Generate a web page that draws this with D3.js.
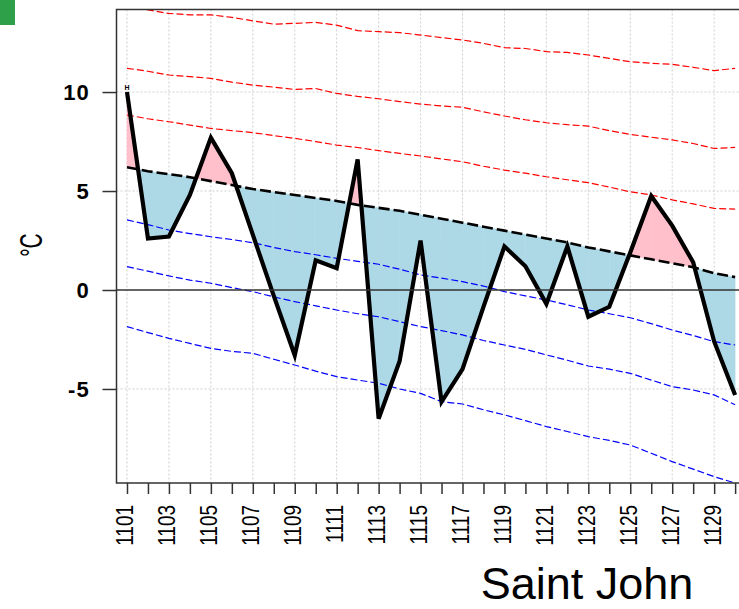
<!DOCTYPE html>
<html>
<head>
<meta charset="utf-8">
<script src="https://cdn.jsdelivr.net/npm/d3@7"></script>
<style>
  html, body { margin: 0; padding: 0; background: #ffffff; }
  svg { display: block; font-family: "Liberation Sans", Arial, sans-serif; }
</style>
</head>
<body>
<svg id="chart" width="739" height="609"></svg>
<script>
// ---------- data ----------
const days = [1,2,3,4,5,6,7,8,9,10,11,12,13,14,15,16,17,18,19,20,21,22,23,24,25,26,27,28,29,30];
const dayLabels = ["1101","1102","1103","1104","1105","1106","1107","1108","1109","1110",
                   "1111","1112","1113","1114","1115","1116","1117","1118","1119","1120",
                   "1121","1122","1123","1124","1125","1126","1127","1128","1129","1130"];
const observed = [10.0, 2.6, 2.7, 4.8, 7.7, 5.9, 2.8, -0.3, -3.3, 1.5,
                  1.1, 6.6, -6.5, -3.6, 2.5, -5.65, -4.0, -0.85, 2.2, 1.2,
                  -0.7, 2.2, -1.35, -0.85, 1.9, 4.75, 3.25, 1.4, -2.6, -5.3];
const normal = [6.2, 6.0, 5.85, 5.7, 5.5, 5.3, 5.1, 4.95, 4.8, 4.65,
                4.5, 4.3, 4.15, 4.0, 3.8, 3.6, 3.4, 3.2, 3.0, 2.8,
                2.6, 2.4, 2.15, 1.95, 1.75, 1.55, 1.35, 1.15, 0.85, 0.65];
const upper3 = [14.3, 14.15, 13.97, 13.9, 13.9, 13.77, 13.6, 13.43, 13.47, 13.52,
                13.38, 13.1, 13.05, 13.0, 12.88, 12.75, 12.63, 12.46, 12.24, 12.2,
                12.04, 12.0, 11.87, 11.7, 11.53, 11.45, 11.4, 11.25, 11.08, 11.2];
const upper2 = [11.2, 11.05, 10.86, 10.78, 10.69, 10.5, 10.35, 10.25, 10.13, 10.18,
                9.93, 9.78, 9.66, 9.52, 9.39, 9.3, 9.23, 9.0, 8.79, 8.6,
                8.45, 8.35, 8.28, 8.05, 7.86, 7.72, 7.58, 7.4, 7.15, 7.2];
const upper1 = [8.84, 8.65, 8.5, 8.33, 8.16, 8.05, 7.95, 7.8, 7.66, 7.5,
                7.32, 7.2, 7.04, 6.9, 6.77, 6.62, 6.48, 6.25, 6.06, 5.9,
                5.72, 5.57, 5.42, 5.2, 4.96, 4.8, 4.55, 4.35, 4.12, 4.09];
const lower1 = [3.54, 3.3, 3.03, 2.85, 2.69, 2.55, 2.39, 2.15, 1.94, 1.78,
                1.6, 1.45, 1.3, 1.05, 0.76, 0.6, 0.42, 0.2, -0.08, -0.3,
                -0.5, -0.75, -1.01, -1.2, -1.4, -1.7, -2.02, -2.3, -2.61, -2.78];
const lower2 = [1.18, 0.95, 0.71, 0.5, 0.34, 0.12, -0.08, -0.35, -0.59, -0.8,
                -1.01, -1.2, -1.35, -1.6, -1.85, -2.05, -2.27, -2.55, -2.78, -3.0,
                -3.28, -3.55, -3.84, -4.0, -4.21, -4.55, -4.88, -5.05, -5.3, -5.8];
const lower3 = [-1.85, -2.15, -2.44, -2.7, -2.95, -3.1, -3.2, -3.5, -3.79, -4.1,
                -4.38, -4.55, -4.71, -5.0, -5.22, -5.64, -5.76, -6.05, -6.31, -6.6,
                -6.9, -7.15, -7.41, -7.6, -7.83, -8.25, -8.67, -9.05, -9.43, -9.75];
const yTicks = [-5, 0, 5, 10];
const gridDays = [1,3,5,7,9,11,13,15,17,19,21,23,25,27,29];
const yLabel = "°C";
const stationName = "Saint John";
const recordMark = "H";

// ---------- layout ----------
const svg = d3.select("#chart");
const pL = 116.5, pT = 9.5, pB = 483;
const x = d3.scaleLinear().domain([0.5, 30.5]).range([pL, pL + 30 * 20.97]);
const y = d3.scaleLinear().domain([-9.75, 14.17]).range([pB, pT]);
const pR = x.range()[1];

svg.append("rect").attr("x", 0).attr("y", 0).attr("width", 15).attr("height", 25)
   .attr("fill", "#2ea04a");

svg.append("defs").append("clipPath").attr("id", "plotclip")
   .append("rect").attr("x", pL).attr("y", pT)
   .attr("width", pR - pL).attr("height", pB - pT);

const plot = svg.append("g").attr("clip-path", "url(#plotclip)");

// grid
plot.selectAll("line.vgrid").data(gridDays).join("line")
   .attr("x1", d => x(d)).attr("x2", d => x(d))
   .attr("y1", pT).attr("y2", pB)
   .attr("stroke", "#cfcfcf").attr("stroke-width", 1).attr("stroke-dasharray", "2,2");
plot.selectAll("line.hgrid").data(yTicks.filter(v => v !== 0)).join("line")
   .attr("x1", pL).attr("x2", pR)
   .attr("y1", d => y(d)).attr("y2", d => y(d))
   .attr("stroke", "#cfcfcf").attr("stroke-width", 1).attr("stroke-dasharray", "2,2");

// fill polygons between observed and normal
const polys = [];
for (let i = 0; i < days.length - 1; i++) {
  const d0 = observed[i] - normal[i], d1 = observed[i + 1] - normal[i + 1];
  const a = days[i], b = days[i + 1];
  if ((d0 >= 0) === (d1 >= 0)) {
    polys.push({ sign: d0 + d1 >= 0, pts: [[a, observed[i]], [b, observed[i + 1]], [b, normal[i + 1]], [a, normal[i]]] });
  } else {
    const t = d0 / (d0 - d1);
    const xc = a + t * (b - a);
    const yc = normal[i] + t * (normal[i + 1] - normal[i]);
    polys.push({ sign: d0 >= 0, pts: [[a, observed[i]], [xc, yc], [a, normal[i]]] });
    polys.push({ sign: d1 >= 0, pts: [[xc, yc], [b, observed[i + 1]], [b, normal[i + 1]]] });
  }
}
plot.selectAll("polygon.fill").data(polys).join("polygon")
   .attr("points", p => p.pts.map(q => x(q[0]) + "," + y(q[1])).join(" "))
   .attr("fill", p => p.sign ? "#ffc0cb" : "#add8e6")
   .attr("stroke", p => p.sign ? "#ffc0cb" : "#add8e6").attr("stroke-width", 0.5);

const line = vals => d3.line().x((d, i) => x(days[i])).y(d => y(d))(vals);

// percentile lines
[upper3, upper2, upper1].forEach(s => {
  plot.append("path").attr("d", line(s)).attr("fill", "none")
      .attr("stroke", "#ff0000").attr("stroke-width", 1.2).attr("stroke-dasharray", "7,3");
});
[lower1, lower2, lower3].forEach(s => {
  plot.append("path").attr("d", line(s)).attr("fill", "none")
      .attr("stroke", "#0000ff").attr("stroke-width", 1.2).attr("stroke-dasharray", "7,3");
});

// zero line
svg.append("line").attr("x1", pL).attr("x2", 739).attr("y1", y(0)).attr("y2", y(0))
   .attr("stroke", "#333").attr("stroke-width", 1.3);

// normal
plot.append("path").attr("d", line(normal)).attr("fill", "none")
    .attr("stroke", "#000").attr("stroke-width", 2.6).attr("stroke-dasharray", "11,4");

// observed
plot.append("path").attr("d", line(observed)).attr("fill", "none")
    .attr("stroke", "#000").attr("stroke-width", 4.2).attr("stroke-linejoin", "miter");

svg.append("text").attr("x", x(days[0])).attr("y", y(observed[0]) - 2)
   .attr("text-anchor", "middle").attr("font-size", 7).attr("font-weight", "bold")
   .text(recordMark);

// border (left, top, bottom; right side is beyond the page)
svg.append("path")
   .attr("d", `M${pR},${pT} L${pL},${pT} L${pL},${pB} L${pR},${pB}`)
   .attr("fill", "none").attr("stroke", "#333").attr("stroke-width", 1.5);

// y axis
const yAxis = svg.append("g").attr("transform", `translate(${pL},0)`)
   .call(d3.axisLeft(y).tickValues(yTicks).tickSize(14).tickPadding(12.5).tickFormat(d3.format("d")));
yAxis.select(".domain").remove();
yAxis.selectAll("line").attr("stroke", "#333").attr("stroke-width", 1.5);
yAxis.selectAll("text").attr("font-size", 22).attr("font-weight", "bold")
   .attr("letter-spacing", 1.2)
   .attr("font-family", "Liberation Sans, Arial, sans-serif").attr("fill", "#000")
   .attr("dy", "0.35em").text(d => d < 0 ? "-" + Math.abs(d) : d);

// x axis
const xAxis = svg.append("g").attr("transform", `translate(0,${pB})`)
   .call(d3.axisBottom(x).tickValues(days).tickSize(11)
   .tickFormat((d, i) => d % 2 === 1 ? dayLabels[i] : ""));
xAxis.select(".domain").remove();
xAxis.selectAll("line").attr("stroke", "#333").attr("stroke-width", 1.5);
xAxis.selectAll("text")
   .attr("x", 0).attr("y", 0).attr("dy", 0)
   .attr("font-size", 19).attr("fill", "#000")
   .attr("font-family", "Liberation Sans, Arial, sans-serif")
   .attr("text-anchor", "end")
   .attr("transform", "translate(6,22) rotate(-90) scale(1,1.3)");

// y label
svg.append("text").attr("transform", "translate(42,245) rotate(-90) scale(1,1.45)")
   .attr("text-anchor", "middle").attr("font-size", 21).text(yLabel);

// station title
svg.append("text").attr("x", 587).attr("y", 599).attr("text-anchor", "middle")
   .attr("font-size", 45).text(stationName);
</script>
</body>
</html>
